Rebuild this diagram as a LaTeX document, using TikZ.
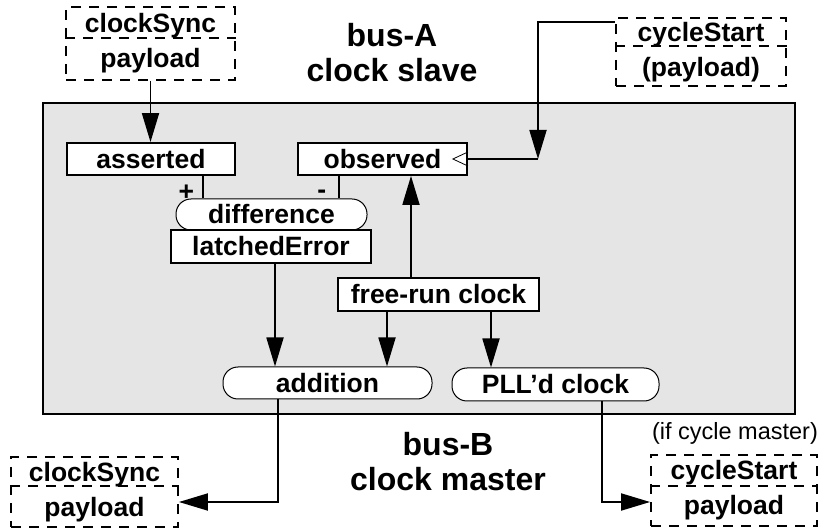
\documentclass[tikz,border=0pt]{standalone}
\usepackage{fontspec}
\setmainfont{Liberation Sans}
\usepackage{tikz}
\usetikzlibrary{arrows.meta,positioning}
\definecolor{cPanel}{HTML}{E5E5E5}

\begin{document}
\begin{tikzpicture}[x=1pt,y=-1pt,
  lbl/.style={font=\fontsize{26.5}{35}\selectfont\bfseries},
  regbox/.style={lbl,draw,line width=1.8pt,fill=white,inner sep=0pt},
  roundbox/.style={lbl,draw,line width=1pt,fill=white,rounded corners=15pt,inner sep=0pt},
  pktbox/.style={lbl,draw,line width=1.8pt,dash pattern=on 10pt off 8pt,align=center,inner sep=0pt},
  pktline/.style={line width=1.8pt,dash pattern=on 10pt off 8pt},
  wire/.style={line width=1.8pt},
  arr/.style={wire,-{Triangle[length=29pt,width=17pt]}},
  bustitle/.style={font=\fontsize{32}{35}\selectfont\bfseries,align=center},
  sign/.style={lbl,inner sep=0pt}]
  \useasboundingbox (0,0) rectangle (820,529);

  % clock unit panel
  \node[draw,line width=1.8pt,fill=cPanel,minimum width=752pt,minimum height=311pt,inner sep=0pt] (unit) at (419,258.5) {};

  % packets on both buses
  \node[pktbox,minimum width=169pt,minimum height=73pt] (syncIn) at (150.5,43.5) {clockSync\\payload};
  \draw[pktline] ([yshift=-32pt]syncIn.north west) -- ([yshift=-32pt]syncIn.north east);
  \node[pktbox,minimum width=170pt,minimum height=68pt] (cycIn) at (701,52) {cycleStart\\(payload)};
  \draw[pktline] ([yshift=-29pt]cycIn.north west) -- ([yshift=-29pt]cycIn.north east);
  \node[pktbox,minimum width=167pt,minimum height=70pt] (syncOut) at (94.5,492) {clockSync\\payload};
  \draw[pktline] ([yshift=-30pt]syncOut.north west) -- ([yshift=-30pt]syncOut.north east);
  \node[pktbox,minimum width=166pt,minimum height=71pt] (cycOut) at (734,490.5) {cycleStart\\payload};
  \draw[pktline] ([yshift=-32pt]cycOut.north west) -- ([yshift=-32pt]cycOut.north east);

  \node[bustitle] (busA) at (392,53) {bus-A\\clock slave};
  \node[bustitle] (busB) at (448,462) {bus-B\\clock master};
  \node[font=\fontsize{23.5}{28}\selectfont] (ifmaster) at (735,433) {(if cycle master)};

  % registers and operators
  \node[regbox,minimum width=168pt,minimum height=32pt] (asserted) at (151,159) {asserted};
  \node[regbox,minimum width=169pt,minimum height=32pt] (observed) at (382.5,159) {observed};
  \draw[line width=0.8pt] ([yshift=7pt]observed.east) -- ([xshift=-15pt]observed.east) -- ([yshift=-7pt]observed.east);
  \node[roundbox,minimum width=191pt,minimum height=31pt] (diff) at (271.5,214.5) {difference};
  \node[regbox,minimum width=200pt,minimum height=33pt] (latched) at (271,246.5) {latchedError};
  \node[regbox,minimum width=201pt,minimum height=33pt] (freerun) at (438.5,294.5) {free-run clock};
  \node[roundbox,minimum width=209pt,minimum height=32pt] (addition) at (327.5,383) {addition};
  \node[roundbox,minimum width=207pt,minimum height=33pt] (pll) at (555.5,384.5) {PLL’d clock};

  % data flow
  \draw[arr] (syncIn.south) -- (syncIn.south |- asserted.north);
  \coordinate (cycTurn) at (538,159);
  \draw[arr] ([yshift=-5pt]cycIn.north west) -| (cycTurn);
  \draw[wire] (cycTurn) -- (observed.east);
  \draw[wire] ([xshift=52pt]asserted.south) -- ([xshift=52pt]asserted.south |- diff.north)
    node[sign,pos=0.75,left=8pt] {+};
  \draw[wire] ([xshift=-43.5pt]observed.south) -- ([xshift=-43.5pt]observed.south |- diff.north)
    node[sign,pos=0.83,left=12pt] {-};
  \draw[arr] ([xshift=4pt]latched.south) -- ([xshift=4pt]latched.south |- addition.north);
  \draw[arr] ([xshift=-27.5pt]freerun.north) -- ([xshift=-27.5pt]freerun.north |- observed.south);
  \draw[arr] ([xshift=-51.5pt]freerun.south) -- ([xshift=-51.5pt]freerun.south |- addition.north);
  \draw[arr] ([xshift=52.5pt]freerun.south) -- ([xshift=52.5pt]freerun.south |- pll.north);
  \draw[arr] ([xshift=-49.5pt]addition.south) |- ([yshift=-10pt]syncOut.east);
  \draw[arr] ([xshift=46.5pt]pll.south) |- ([yshift=-11.5pt]cycOut.west);
\end{tikzpicture}
\end{document}
